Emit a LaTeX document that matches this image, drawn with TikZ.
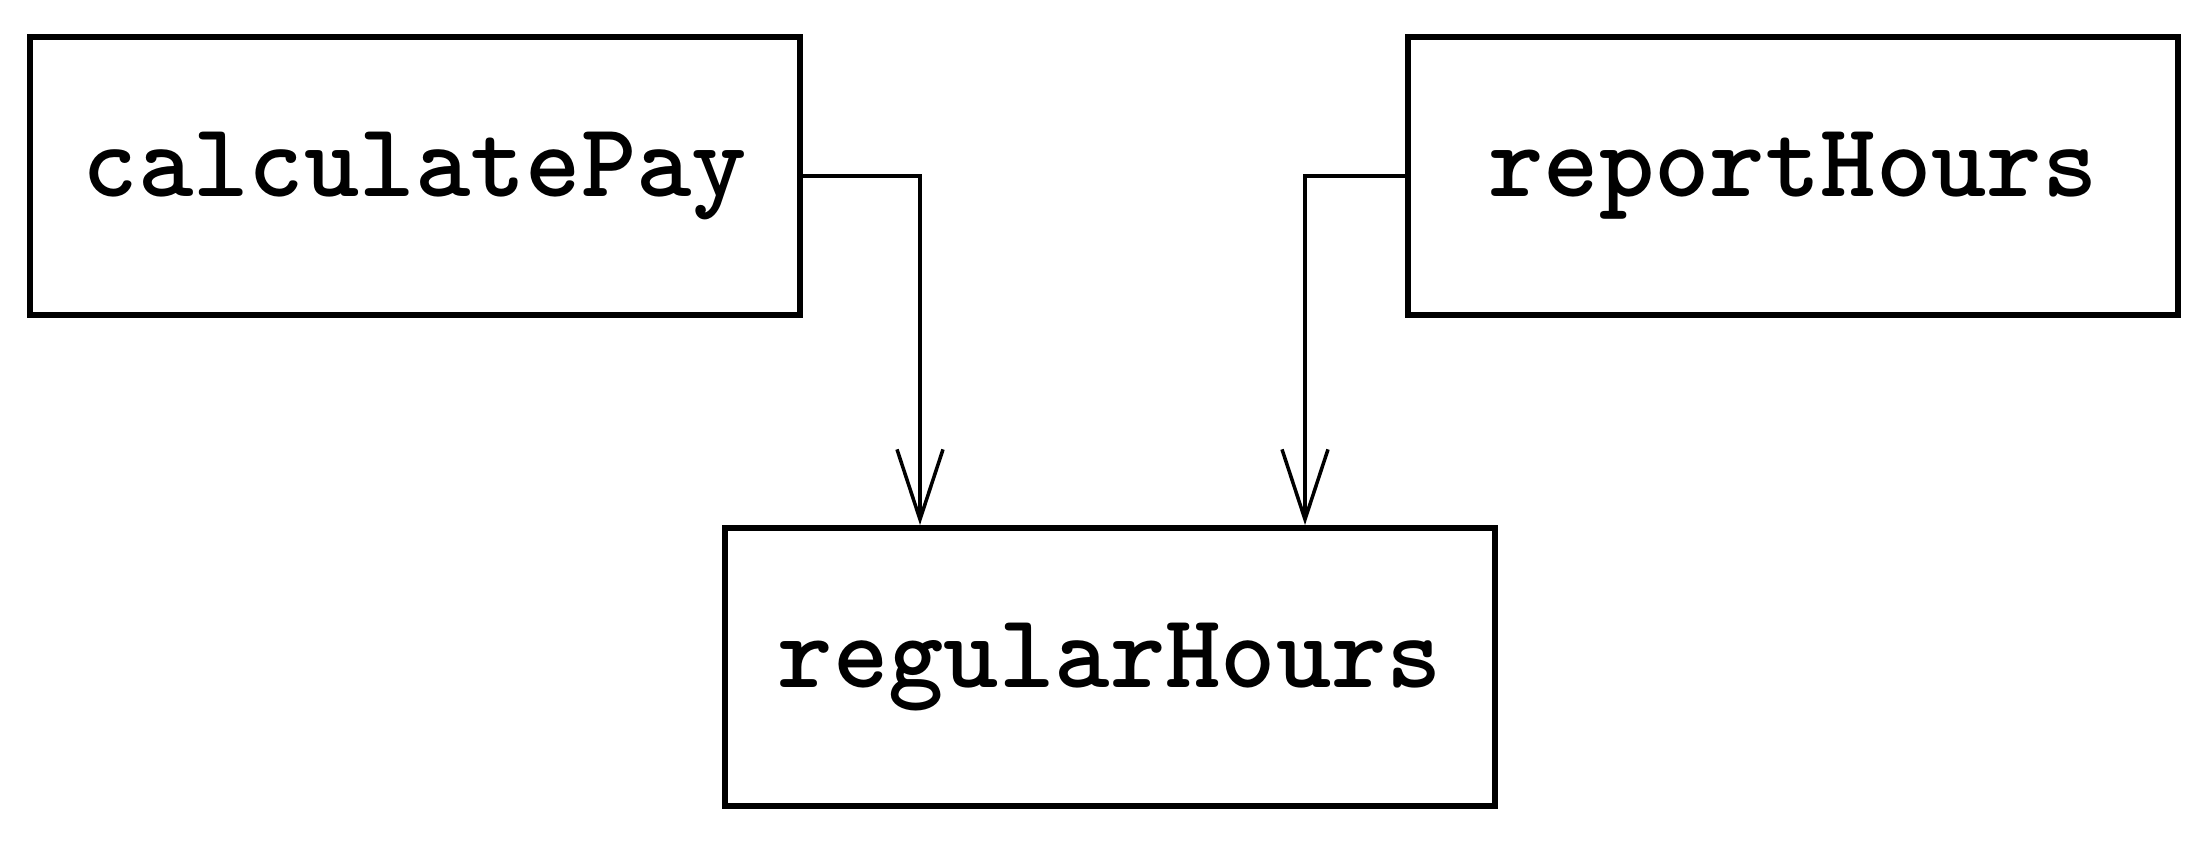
\documentclass[tikz,border=0pt]{standalone}
\usepackage{fontspec}
\usetikzlibrary{arrows.meta}
\begin{document}
\begin{tikzpicture}[
  modbox/.style={draw,line width=1.7pt,minimum width=7.7cm,minimum height=2.78cm,
    font=\ttfamily\bfseries\fontsize{30}{34}\selectfont},
  callarr/.style={line width=1pt,-{Straight Barb[length=7mm,width=4.6mm,line width=1pt]}}]
\useasboundingbox (0,0) rectangle (22.08,8.48);
\node[modbox] (calc) at (4.15,6.72) {calculatePay};
\node[modbox] (report) at (17.93,6.72) {reportHours};
\node[modbox] (regular) at (11.10,1.81) {regularHours};
\draw[callarr] (calc.east) -| ([xshift=-1.9cm]regular.north);
\draw[callarr] (report.west) -| ([xshift=1.95cm]regular.north);
\end{tikzpicture}
\end{document}
